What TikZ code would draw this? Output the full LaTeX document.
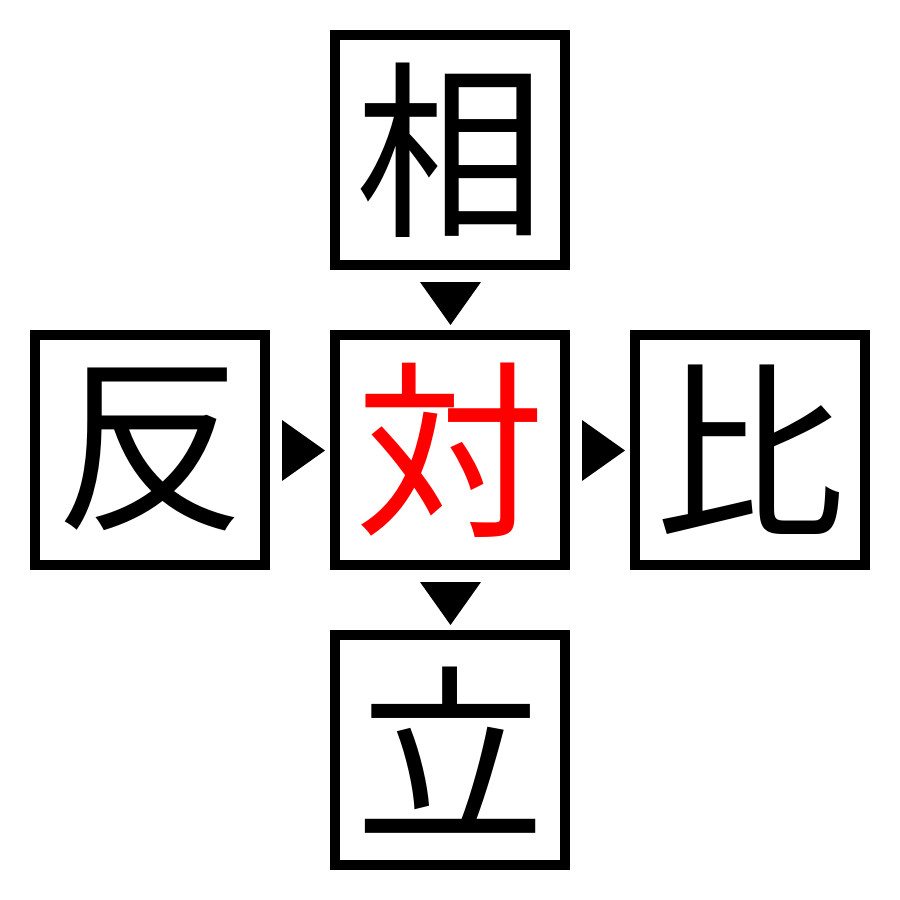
\documentclass[tikz,border=0pt]{standalone}
\usepackage{fontspec}
\newfontfamily\cjk{Noto Sans CJK JP}
\begin{document}
\begin{tikzpicture}[x=0.01cm,y=-0.01cm,
  kbox/.style={draw=black,line width=0.1cm,minimum width=2.3cm,minimum height=2.3cm,inner sep=0pt,font=\cjk\fontsize{54pt}{54pt}\selectfont},
  tri/.style={fill=black,draw=none}]
\useasboundingbox (0,0) rectangle (900,900);
\node[kbox] (top) at (150+300,150) {相};
\node[kbox] (left) at (150,450) {反};
\node[kbox,text=red] (mid) at (450,450) {対};
\node[kbox] (right) at (750,450) {比};
\node[kbox] (bot) at (450,750) {立};
\fill[tri] (420,282) -- (481,282) -- (450.5,325) -- cycle;
\fill[tri] (420,582) -- (481,582) -- (450.5,625) -- cycle;
\fill[tri] (282,420) -- (282,481) -- (325,450.5) -- cycle;
\fill[tri] (582,420) -- (582,481) -- (625,450.5) -- cycle;
\end{tikzpicture}
\end{document}
